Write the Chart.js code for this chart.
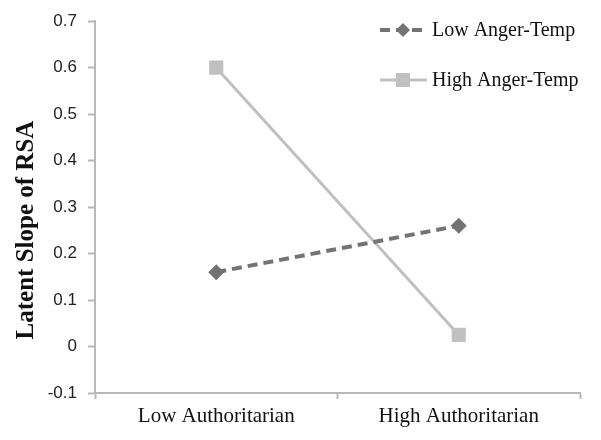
<!DOCTYPE html>
<html>
<head>
<meta charset="utf-8">
<script src="https://cdn.jsdelivr.net/npm/chart.js@4.4.0/dist/chart.umd.min.js"></script>
<style>
  body { margin: 0; background: #fff; }
  #wrap { width: 601px; height: 440px; }
</style>
</head>
<body>
<div id="wrap"><canvas id="myChart" width="601" height="440"></canvas></div>
<script>
var categories = ["Low Authoritarian", "High Authoritarian"];
var lowAngerTemp = [0.16, 0.26];
var highAngerTemp = [0.60, 0.025];
var seriesNames = ["Low Anger-Temp", "High Anger-Temp"];
var yTitle = "Latent Slope of RSA";

var darkGray = '#737373';
var lightGray = '#c0c0c0';
var axisGray = '#b8b8b8';

// legend and y title drawn by hand, Excel style
var extras = {
	id: 'extras',
	afterDraw: function (chart) {
		var ctx = chart.ctx;
		ctx.save();
		// y title
		ctx.translate(27, 230);
		ctx.rotate(-Math.PI / 2);
		ctx.fillStyle = '#111';
		ctx.font = 'bold 25px "Liberation Serif", serif';
		ctx.textAlign = 'center';
		ctx.textBaseline = 'middle';
		ctx.fillText(yTitle, 0, 0);
		ctx.restore();

		// legend
		ctx.save();
		var rows = [
			{ y: 30, color: darkGray, dash: [10, 6], width: 4, marker: 'diamond' },
			{ y: 80, color: lightGray, dash: [], width: 3, marker: 'square' }
		];
		rows.forEach(function (r, i) {
			ctx.strokeStyle = r.color;
			ctx.lineWidth = r.width;
			ctx.setLineDash(r.dash);
			ctx.beginPath();
			ctx.moveTo(380, r.y);
			ctx.lineTo(427, r.y);
			ctx.stroke();
			ctx.setLineDash([]);
			ctx.fillStyle = r.color;
			ctx.beginPath();
			if (r.marker == 'diamond') {
				ctx.moveTo(403, r.y - 7);
				ctx.lineTo(410, r.y);
				ctx.lineTo(403, r.y + 7);
				ctx.lineTo(396, r.y);
				ctx.closePath();
			} else {
				ctx.rect(396, r.y - 7, 14, 14);
			}
			ctx.fill();
			ctx.fillStyle = '#111';
			ctx.font = '20px "Liberation Serif", serif';
			ctx.textAlign = 'left';
			ctx.textBaseline = 'middle';
			ctx.fillText(seriesNames[i], 432, r.y + 1);
		});
		ctx.restore();
	}
};

var el = document.getElementById('myChart');
var myChart = new Chart(el, {
	type: 'line',
	data: {
		labels: categories,
		datasets: [{
			label: seriesNames[0],
			data: lowAngerTemp,
			borderColor: darkGray,
			backgroundColor: darkGray,
			borderWidth: 4,
			borderDash: [10, 6],
			pointStyle: 'rectRot',
			pointRadius: 8,
			pointBorderWidth: 0,
			tension: 0
		}, {
			label: seriesNames[1],
			data: highAngerTemp,
			borderColor: lightGray,
			backgroundColor: lightGray,
			borderWidth: 3,
			pointStyle: 'rect',
			pointRadius: 10,
			pointBorderWidth: 0,
			tension: 0
		}]
	},
	options: {
		responsive: false,
		animation: false,
		layout: { padding: { top: 20, right: 21, left: 0, bottom: 0 } },
		plugins: {
			legend: { display: false },
			tooltip: { enabled: false }
		},
		scales: {
			x: {
				offset: true,
				afterFit: function (scale) { scale.height = 47; },
				border: { color: axisGray, width: 2 },
				grid: { offset: true, drawOnChartArea: false, tickLength: 6, tickColor: axisGray, tickWidth: 2 },
				ticks: {
					color: '#111',
					padding: 5,
					font: { family: '"Liberation Serif", serif', size: 21 }
				}
			},
			y: {
				min: -0.1,
				max: 0.7,
				afterFit: function (scale) { scale.width = 95; },
				border: { color: axisGray, width: 2 },
				grid: { drawOnChartArea: false, tickLength: 7, tickColor: axisGray, tickWidth: 2 },
				ticks: {
					stepSize: 0.1,
					color: '#222',
					padding: 11,
					font: { family: '"Liberation Sans", Arial, sans-serif', size: 17 },
					callback: function (v) { return String(Math.round(v * 10) / 10); }
				}
			}
		}
	},
	plugins: [extras]
});
</script>
</body>
</html>
